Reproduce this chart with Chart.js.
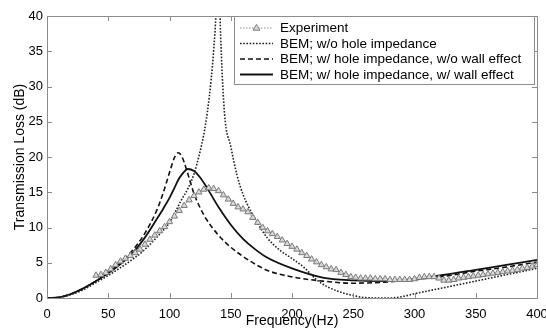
<!DOCTYPE html>
<html><head><meta charset="utf-8">
<script src="https://cdn.jsdelivr.net/npm/chart.js@4/dist/chart.umd.min.js"></script>
<style>html,body{margin:0;padding:0;background:#fff;}#c{display:block;}</style>
</head><body>
<canvas id="c" width="546" height="328"></canvas>
<script>
const seriesNames = ["Experiment", "BEM; w/o hole impedance", "BEM; w/ hole impedance, w/o wall effect", "BEM; w/ hole impedance, w/ wall effect"];
const xTicks = [0, 50, 100, 150, 200, 250, 300, 350, 400];
const yTicks = [0, 5, 10, 15, 20, 25, 30, 35, 40];
const xTitle = "Frequency(Hz)";
const yTitle = "Transmission Loss (dB)";

const expFreq = [40,44,48,52,56,60,64,68,72,76,80,84,88,92,96,100,104,108,112,116,120,124,128,132,136,140,144,148,152,156,160,164,168,172,176,180,184,188,192,196,200,204,208,212,216,220,224,228,232,236,240,244,248,252,256,260,264,268,272,276,280,284,288,292,296,300,304,308,312,316,320,324,328,332,336,340,344,348,352,356,360,364,368,372,376,380,384,388,392,396,400];
const expTL = [3.2,3.3,3.6,4.1,4.7,5.2,5.6,6.0,6.4,6.9,7.6,8.3,8.9,9.5,10.1,10.8,11.6,12.4,13.1,13.9,14.5,15.0,15.4,15.6,15.5,15.2,14.6,14.0,13.4,12.9,12.6,12.2,11.4,10.7,10.0,9.5,9.1,8.7,8.2,7.7,7.3,6.9,6.4,6.0,5.5,5.1,4.7,4.4,4.1,4.0,3.6,3.3,3.0,2.9,2.8,2.8,2.8,2.7,2.7,2.7,2.6,2.6,2.6,2.6,2.6,2.7,2.9,3.0,3.0,3.0,2.8,2.5,2.5,2.6,2.8,2.9,3.0,3.1,3.2,3.3,3.4,3.5,3.6,3.7,3.8,3.9,4.0,4.2,4.3,4.5,4.7];

const noImpFreq = [0,10,20,30,40,50,60,70,80,90,100,105,110,115,120,125,128,131,134,136,138,139,139.5,140,141,142,145,150,155,160,170,180,190,200,210,220,230,240,250,260,270,280,290,300,325,350,375,400];
const noImpTL = [0,0.1,0.5,1.2,2.2,3.2,4.3,5.5,6.9,8.7,10.7,12.3,14.0,15.5,17.6,20.8,23.2,26.5,31,35,41,48,60,52,42,36,26,21.5,17.5,14.7,11.2,8.5,6.8,5.6,4.3,2.6,1.5,0.8,0.35,0.05,0,0,0.2,0.6,1.5,2.4,3.3,4.2];

const modelFreq = [0,10,20,30,40,50,60,70,80,90,95,100,104,107,110,115,120,125,130,140,150,160,170,180,200,225,250,275,300,325,350,375,400];
const noWallTL = [0,0.1,0.6,1.4,2.4,3.6,5.0,6.8,9.2,12.6,15.0,17.8,19.9,20.6,20.1,17.6,14.8,12.8,11.2,8.9,7.2,5.9,4.8,3.9,3.0,2.4,2.1,2.25,2.6,3.1,3.8,4.4,5.1];
const wallTL = [0,0.1,0.6,1.4,2.4,3.5,4.8,6.4,8.6,11.3,12.7,14.2,15.6,16.7,17.5,18.3,18.0,17.1,15.8,12.9,10.4,8.4,6.9,5.7,4.2,2.9,2.5,2.4,2.7,3.3,4.0,4.7,5.4];

const pts = (xs, ys) => xs.map((x, i) => ({x: x, y: ys[i]}));
const FONT = "'Liberation Sans', Arial, Helvetica, sans-serif";

const styles = [
  {color: '#8a8a8a', width: 1, dash: [1.5, 1.5], marker: true},
  {color: '#222', width: 1.6, dash: [1.6, 1.6], marker: false},
  {color: '#111', width: 1.6, dash: [5, 3], marker: false},
  {color: '#111', width: 1.8, dash: [], marker: false}
];

const datasets = [
  {label: seriesNames[0], data: pts(expFreq, expTL), borderColor: styles[0].color, borderWidth: styles[0].width,
   borderDash: styles[0].dash, pointStyle: 'triangle', pointRadius: 3.6, pointBackgroundColor: '#d9d9d9',
   pointBorderColor: '#7a7a7a', pointBorderWidth: 1, tension: 0, fill: false},
  {label: seriesNames[1], data: pts(noImpFreq, noImpTL), borderColor: styles[1].color, borderWidth: styles[1].width,
   borderDash: styles[1].dash, pointRadius: 0, cubicInterpolationMode: 'monotone', fill: false},
  {label: seriesNames[2], data: pts(modelFreq, noWallTL), borderColor: styles[2].color, borderWidth: styles[2].width,
   borderDash: styles[2].dash, pointRadius: 0, cubicInterpolationMode: 'monotone', fill: false},
  {label: seriesNames[3], data: pts(modelFreq, wallTL), borderColor: styles[3].color, borderWidth: styles[3].width,
   borderDash: styles[3].dash, pointRadius: 0, cubicInterpolationMode: 'monotone', fill: false}
];

const framePlugin = {
  id: 'frame',
  afterDatasetsDraw(chart) {
    const ctx = chart.ctx, a = chart.chartArea, xs = chart.scales.x, ys = chart.scales.y;
    ctx.save();
    ctx.strokeStyle = '#8c8c8c';
    ctx.lineWidth = 1;
    ctx.setLineDash([]);
    ctx.strokeRect(Math.round(a.left) + 0.5, Math.round(a.top) + 0.5, Math.round(a.right - a.left), Math.round(a.bottom - a.top));
    const L = 5;
    ctx.beginPath();
    xTicks.forEach(v => {
      const px = Math.round(xs.getPixelForValue(v)) + 0.5;
      ctx.moveTo(px, a.bottom); ctx.lineTo(px, a.bottom - L);
      ctx.moveTo(px, a.top); ctx.lineTo(px, a.top + L);
    });
    yTicks.forEach(v => {
      const py = Math.round(ys.getPixelForValue(v)) + 0.5;
      ctx.moveTo(a.left, py); ctx.lineTo(a.left + L, py);
      ctx.moveTo(a.right, py); ctx.lineTo(a.right - L, py);
    });
    ctx.stroke();
    ctx.restore();
  },
  afterDraw(chart) {
    const ctx = chart.ctx, a = chart.chartArea;
    const bx = 234, by = Math.round(a.top) + 0.5, bw = 300, bh = 68;
    ctx.save();
    ctx.fillStyle = '#fff';
    ctx.fillRect(bx, by, bw, bh);
    ctx.strokeStyle = '#8c8c8c';
    ctx.lineWidth = 1;
    ctx.strokeRect(bx + 0.5, by, bw, bh);
    const rows = [28, 43.5, 59, 74.5];
    ctx.font = '13.5px ' + FONT;
    ctx.textBaseline = 'middle';
    ctx.textAlign = 'left';
    seriesNames.forEach((name, i) => {
      const s = styles[i], y = rows[i];
      ctx.strokeStyle = s.color;
      ctx.lineWidth = s.width;
      ctx.setLineDash(s.dash);
      ctx.beginPath(); ctx.moveTo(240, y); ctx.lineTo(273, y); ctx.stroke();
      ctx.setLineDash([]);
      if (s.marker) {
        const cx = 256.5, r = 3.6;
        ctx.beginPath();
        ctx.moveTo(cx, y - r); ctx.lineTo(cx + r * 0.95, y + r * 0.6); ctx.lineTo(cx - r * 0.95, y + r * 0.6); ctx.closePath();
        ctx.fillStyle = '#d9d9d9'; ctx.fill();
        ctx.strokeStyle = '#7a7a7a'; ctx.lineWidth = 1; ctx.stroke();
      }
      ctx.fillStyle = '#000';
      ctx.fillText(name, 280, y + 0.5);
    });
    ctx.restore();
  }
};

new Chart(document.getElementById('c'), {
  type: 'line',
  data: {datasets: datasets},
  plugins: [framePlugin],
  options: {
    responsive: false,
    animation: false,
    devicePixelRatio: 1,
    layout: {padding: {top: 16, right: 9, left: 0, bottom: 0}},
    plugins: {legend: {display: false}, tooltip: {enabled: false}},
    scales: {
      x: {
        type: 'linear', min: 0, max: 400,
        afterFit(s) { s.height = 30; s.paddingLeft = 0; s.paddingRight = 0; },
        afterBuildTicks(s) { s.ticks = xTicks.map(v => ({value: v})); },
        grid: {display: false, drawTicks: false},
        border: {display: false},
        ticks: {color: '#000', font: {family: FONT, size: 13}, padding: 9, maxRotation: 0, autoSkip: false},
        title: {display: true, text: xTitle, color: '#000', font: {family: FONT, size: 14, lineHeight: 1}, padding: 0}
      },
      y: {
        min: 0, max: 40,
        afterFit(s) { s.width = 47; },
        afterBuildTicks(s) { s.ticks = yTicks.map(v => ({value: v})); },
        grid: {display: false, drawTicks: false},
        border: {display: false},
        ticks: {color: '#000', font: {family: FONT, size: 13}, padding: 4, autoSkip: false},
        title: {display: true, text: yTitle, color: '#000', font: {family: FONT, size: 14, lineHeight: 1.2}, padding: {top: 12, bottom: 12}}
      }
    }
  }
});
</script>
</body></html>
